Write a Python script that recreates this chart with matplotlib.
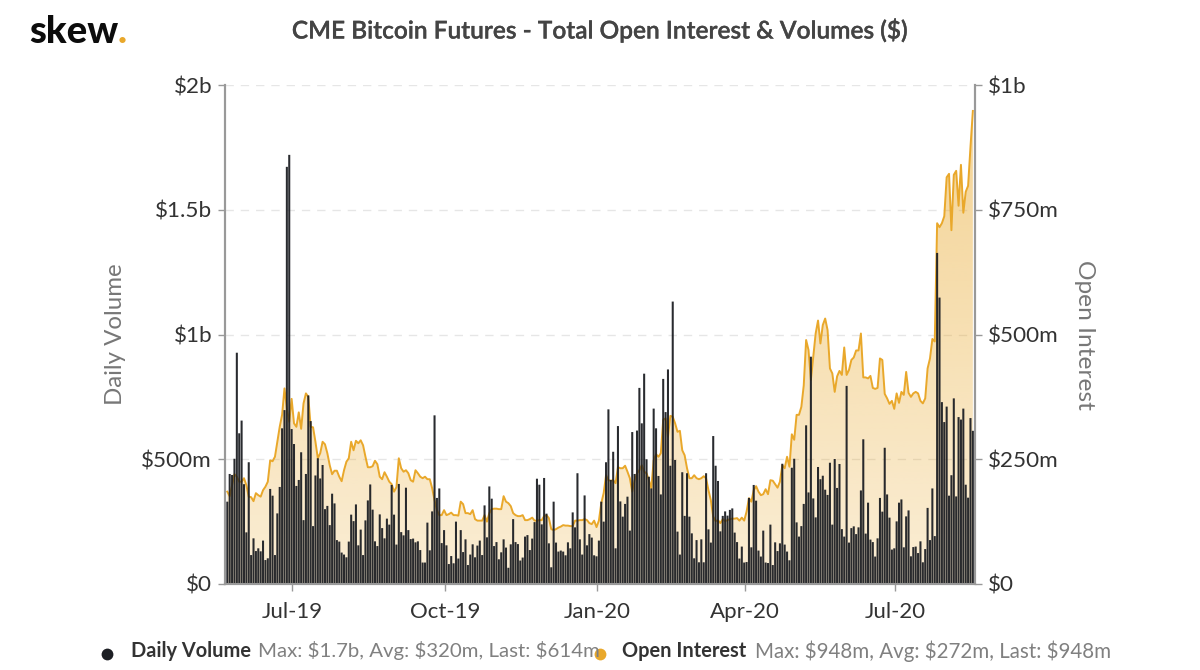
import numpy as np
import matplotlib
matplotlib.use("Agg")
import matplotlib.pyplot as plt
import matplotlib.patheffects as pe
from matplotlib.lines import Line2D
from matplotlib.ticker import FuncFormatter

volume = [
 330,441,437,502,927,604,655,400,207,488,116,183,132,143,131,174,96,103,381,354,
 116,283,389,624,697,1672,1720,621,561,393,417,528,256,441,756,653,232,435,504,423,
 477,300,313,236,362,323,176,170,126,118,107,170,278,252,319,155,218,116,255,335,
 399,298,171,152,279,224,183,262,238,397,278,158,401,208,195,386,216,180,182,167,
 171,136,86,86,246,135,291,676,345,383,164,216,155,80,112,83,250,102,216,128,
 179,76,118,159,107,154,174,
 116,315,187,391,342,152,168,99,127,179,146,65,159,260,168,160,94,106,190,196,
 136,182,248,422,398,239,425,282,163,67,330,166,130,134,130,115,167,143,287,227,
 444,179,118,355,155,200,186,115,111,174,330,250,488,700,417,530,143,633,331,270,
 321,350,214,609,441,615,786,644,843,500,430,383,703,624,433,359,822,689,860,474,
 1132,497,210,118,448,273,444,270,203,103,176,87,179,87,444,219,166,593,474,413,
 211,273,291,274,297,
 303,206,168,102,150,86,88,345,147,397,334,134,110,214,86,84,238,76,167,132,
 163,482,158,130,95,466,502,247,190,232,321,636,367,911,343,267,469,420,434,378,
 357,486,238,501,385,481,220,190,794,166,224,231,200,227,375,580,202,326,178,168,
 110,183,345,290,546,359,266,138,143,251,326,339,147,271,295,111,148,150,124,171,
 87,140,305,176,383,192,1327,1148,729,649,711,354,436,744,351,669,659,703,398,346,
 665,614]

open_interest = [
 185,176,198,220,215,205,205,212,198,175,174,166,182,178,175,188,195,205,248,246,
 255,285,315,339,392,352,325,371,322,315,344,311,362,382,375,315,314,285,252,262,
 285,280,262,238,220,227,227,215,206,228,245,252,285,268,287,282,288,278,255,234,
 234,236,247,240,215,210,224,215,205,200,185,194,252,232,225,228,222,208,205,228,
 222,215,212,215,210,210,192,168,148,138,138,148,138,140,143,138,138,137,165,160,
 142,142,140,148,130,127,127,
 127,138,125,142,150,151,151,150,150,176,165,162,156,142,138,136,136,138,128,128,
 130,133,127,127,128,128,136,138,132,110,108,110,113,115,118,117,117,116,116,127,
 127,128,128,130,128,122,120,127,114,127,162,182,218,208,207,208,202,234,232,232,
 237,225,212,185,208,222,228,238,225,222,208,192,248,260,255,262,329,332,295,337,
 335,322,305,307,268,258,232,212,212,218,212,210,212,216,212,188,168,135,126,128,
 122,130,126,128,130,
 131,131,132,127,133,127,145,172,165,188,196,185,178,180,190,180,208,207,200,193,
 205,238,232,255,235,300,289,339,339,355,398,489,469,409,456,502,528,482,519,532,
 509,432,422,385,416,427,419,474,419,429,449,454,468,468,502,414,414,412,417,393,
 391,393,452,449,381,372,361,367,351,382,363,385,379,425,383,375,382,385,382,367,
 362,372,432,452,491,486,723,715,723,737,815,822,709,820,828,758,840,744,786,798,
 876,948]

assert len(volume) == 314 and len(open_interest) == 314, (len(volume), len(open_interest))

tick_labels = ["Jul-19", "Oct-19", "Jan-20", "Apr-20", "Jul-20"]
tick_bars = [27.3, 91.3, 155.3, 217.3, 280.3]
vol_ticks = [0, 500, 1000, 1500, 2000]
oi_ticks = [0, 250, 500, 750, 1000]

GOLD = "#e9a82b"
DARK = "#1d1f24"
GREY = "#999999"
TXT = "#333333"
W, H = 1200, 670
plt.rcParams["font.family"] = ["Lato", "DejaVu Sans"]

fig = plt.figure(figsize=(W / 100, H / 100), dpi=100, facecolor="white")
L, R, T, B = 225, 975, 85, 584
ax = fig.add_axes([L / W, 1 - B / H, (R - L) / W, (B - T) / H])
ax2 = ax.twinx()
ax.set_zorder(2); ax2.set_zorder(1)
ax.patch.set_visible(False)
ax2.patch.set_visible(True)
ax2.patch.set_facecolor("white")

x = np.arange(len(volume))
bars = ax.bar(x, volume, width=0.86, color=DARK, alpha=0.95, linewidth=0, zorder=2)
for b in bars:
    b.set_snap(False)
ax.set_xlim(-0.97, 313.9)
ax.set_ylim(0, 2000)
ax2.set_ylim(0, 1000)

poly = ax2.fill_between(x, open_interest, 0, color="none", linewidth=0)
rgb = matplotlib.colors.to_rgb(GOLD)
grad = np.zeros((256, 1, 4))
grad[..., :3] = rgb
grad[..., 3] = np.linspace(0.5, 0.2, 256)[:, None]
im = ax2.imshow(grad, extent=[x[0], x[-1], 0, max(open_interest)], aspect="auto",
                zorder=3, interpolation="bilinear")
im.set_clip_path(poly.get_paths()[0], transform=ax2.transData)
ax2.set_xlim(-0.97, 313.9)
ax2.set_ylim(0, 1000)
ax2.plot(x, open_interest, color=GOLD, lw=1.4, zorder=4, solid_joinstyle="round")

def vol_fmt(v, _):
    return "$0" if v == 0 else (f"${v/1000:g}b" if v >= 1000 else f"${v:g}m")

ax.set_xticks(tick_bars, tick_labels)
ax.set_yticks(vol_ticks)
ax2.set_yticks(oi_ticks)
ax.yaxis.set_major_formatter(FuncFormatter(vol_fmt))
ax2.yaxis.set_major_formatter(FuncFormatter(vol_fmt))
ax.grid(False)
ax2.grid(axis="y", color="#e6e6e6", lw=1.0, ls=(0, (6, 5)), zorder=0)
ax2.set_axisbelow(True)
for a in (ax, ax2):
    a.spines["top"].set_visible(False)
    for s in ("left", "right", "bottom"):
        a.spines[s].set_color(GREY)
        a.spines[s].set_linewidth(1.5)
    a.tick_params(axis="y", length=5, width=1, color=GREY, labelsize=16.2, labelcolor=TXT, pad=4.3)
ax.tick_params(axis="x", length=5, width=1, color=GREY, labelsize=16, labelcolor=TXT, pad=8)
ax2.tick_params(axis="x", length=0, labelbottom=False)

def px(xp, yp, s, **kw):
    return fig.text(xp / W, 1 - yp / H, s, **kw)

px(115, 334, "Daily Volume", rotation=90, ha="center", va="center", fontsize=17.3, color="#777777")
px(1085, 335, "Open Interest", rotation=270, ha="center", va="center", fontsize=17.6, color="#777777")
title = px(600, 30, "CME Bitcoin Futures - Total Open Interest & Volumes ($)", ha="center", va="center",
           fontsize=17.6, color="#444444", fontweight=600)
title.set_path_effects([pe.withStroke(linewidth=0.2, foreground="#444444")])
px(29, 43, "skew", ha="left", va="baseline", fontsize=27.5, fontweight="black", color="#0c0c0c")
px(117.5, 43, ".", ha="left", va="baseline", fontsize=27.5, fontweight="black", color=GOLD)

for xp, yp, c in [(107, 654, DARK), (600, 654, GOLD)]:
    fig.add_artist(Line2D([xp / W], [1 - yp / H], marker="o", ms=8.5, color=c, mew=0,
                          transform=fig.transFigure))
leg = dict(va="center")
px(131, 651, "Daily Volume", color="#333333", fontweight="bold", fontsize=14.4, **leg)
px(258, 651, "Max: $1.7b, Avg: $320m, Last: $614m", color="#808080", fontsize=14.65, **leg)
px(622, 651, "Open Interest", color="#333333", fontweight="bold", fontsize=14.4, **leg)
px(755, 651, "Max: $948m, Avg: $272m, Last: $948m", color="#808080", fontsize=14.8, **leg)

fig.savefig("out.png", dpi=100, facecolor="white")
